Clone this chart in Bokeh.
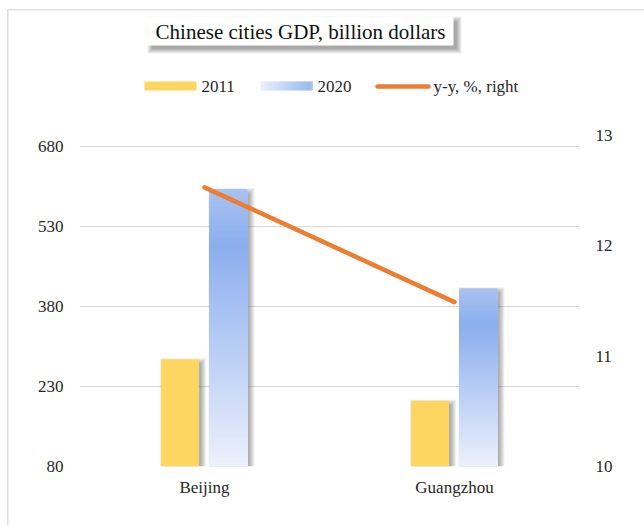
import numpy as np
from bokeh.plotting import figure
from bokeh.models import (ColumnDataSource, FactorRange, Range1d, LinearAxis,
                          FixedTicker, BoxAnnotation, Label)
from bokeh.transform import dodge
from bokeh.embed import file_html
from bokeh.resources import INLINE

# ---------------- data ----------------
cities = ["Beijing", "Guangzhou"]
gdp_2011 = [281, 203]
gdp_2020 = [600, 414]
yy_pct = [12.53, 11.49]
left_ticks = [80, 230, 380, 530, 680]
right_ticks = [10, 11, 12, 13]
title_text = "Chinese cities GDP, billion dollars"
legend_labels = ["2011", "2020", "y-y, %, right"]

# ---------------- layout constants ----------------
FL, FW, FR = 79, 500, 65      # frame left border, frame width, right border
FT, FH, FB = 0, 466, 59       # top border, frame height, bottom border
Y0, Y1 = 80, 700              # left axis min / max
R0, R1 = 10, 13               # right axis min / max
PLOT_PX = 331                 # pixels between axis min and max
ky = (Y1 - Y0) / PLOT_PX
kr = (R1 - R0) / PLOT_PX
kx = 2.0 / FW

FONT = "Liberation Serif"
TXT = "#262626"
YELLOW = "#fcd660"
ORANGE = "#ed7d31"
BORDER = "#dedede"


def cx(ix):  # canvas x -> synthetic x
    return (ix - FL) * kx


def cy(iy):  # canvas y -> left-axis data y
    return Y0 + (FH - (iy - FT)) * ky


def blue(t):
    stops = [(0.0, (236, 241, 252)), (0.8, (139, 174, 238)), (1.0, (168, 194, 241))]
    for (t0, c0), (t1, c1) in zip(stops[:-1], stops[1:]):
        if t <= t1:
            f = (t - t0) / (t1 - t0)
            c = [round(a + (b - a) * f) for a, b in zip(c0, c1)]
            return "#%02x%02x%02x" % tuple(c)
    return "#%02x%02x%02x" % stops[-1][1]


css_bg = ("linear-gradient(%s,%s) 7px 9px / 1.5px 100%% no-repeat, "
          "linear-gradient(%s,%s) 7px 9px / 100%% 1.5px no-repeat, white"
          % (BORDER, BORDER, BORDER, BORDER))

p = figure(x_range=FactorRange(*cities), y_range=Range1d(Y0, Y0 + FH * ky),
           frame_width=FW, frame_height=FH,
           min_border_left=FL, min_border_right=FR,
           min_border_top=FT, min_border_bottom=FB,
           output_backend="svg", toolbar_location=None,
           background_fill_color=None, border_fill_color=None,
           styles={"background": css_bg})
p.outline_line_color = None
p.extra_y_ranges = {"right": Range1d(R0, R0 + FH * kr)}

src = ColumnDataSource(dict(city=cities, v11=gdp_2011, v20=gdp_2020, yy=yy_pct))

bw = 38 * kx
off11 = -24.5 * kx
off20 = 24.0 * kx

# ---------- bar shadows ----------
for i in range(6):
    for vals, off in ((gdp_2011, off11), (gdp_2020, off20)):
        s = ColumnDataSource(dict(city=cities,
                                  top=[v - 3 * ky + (i - 1) * ky for v in vals]))
        p.vbar(x=dodge("city", off + 3 * kx, range=p.x_range), top="top", bottom=Y0,
               width=bw + 2 * (i - 1) * kx, source=s,
               fill_color="black", fill_alpha=0.06, line_color=None)

# ---------- 2011 bars ----------
p.vbar(x=dodge("city", off11, range=p.x_range), top="v11", bottom=Y0, width=bw,
       source=src, fill_color=YELLOW, line_color=None)

# ---------- 2020 gradient bars ----------
N = 140
gc, gt, gcol = [], [], []
for j in range(N, 0, -1):
    t = j / N
    for c, v in zip(cities, gdp_2020):
        gc.append(c)
        gt.append(Y0 + (v - Y0) * t)
        gcol.append(blue(t))
gsrc = ColumnDataSource(dict(city=gc, top=gt, color=gcol))
p.vbar(x=dodge("city", off20, range=p.x_range), top="top", bottom=Y0, width=bw,
       source=gsrc, fill_color="color", line_color=None)

# ---------- y-y line ----------
p.line(x="city", y="yy", y_range_name="right", source=src,
       line_color=ORANGE, line_width=4.5, line_cap="round")

# ---------- axes ----------
p.xgrid.visible = False
p.ygrid.grid_line_color = "#d9d9d9"
p.ygrid.grid_line_width = 1.2
p.yaxis.ticker = FixedTicker(ticks=left_ticks)
rax = LinearAxis(y_range_name="right", ticker=FixedTicker(ticks=right_ticks))
p.add_layout(rax, "right")

for ax in [p.xaxis[0], p.yaxis[0], rax]:
    ax.axis_line_color = None
    ax.major_tick_line_color = None
    ax.minor_tick_line_color = None
    ax.major_tick_out = 0
    ax.major_tick_in = 0
    ax.major_label_text_font = FONT
    ax.major_label_text_font_size = "17px"
    ax.major_label_text_color = TXT
    ax.major_label_standoff = 16
p.xaxis[0].major_label_standoff = 11

# ---------- title box ----------
for i in range(6):
    e = i - 1
    p.add_layout(BoxAnnotation(left=cx(147 + 4 - e), right=cx(453 + 4 + e),
                               top=cy(16 + 4 - e), bottom=cy(45 + 4 + e),
                               fill_color="black", fill_alpha=0.065, line_color=None))
p.add_layout(BoxAnnotation(left=cx(147), right=cx(453), top=cy(16), bottom=cy(45),
                           fill_color="white", fill_alpha=1, line_color=None))
p.add_layout(Label(x=cx(300), y=cy(31), text=title_text, text_align="center",
                   text_baseline="middle", text_font=FONT, text_font_size="21px",
                   text_color="#111111"))

# ---------- legend ----------
p.add_layout(BoxAnnotation(left=cx(144), right=cx(196), top=cy(81), bottom=cy(90),
                           fill_color=YELLOW, fill_alpha=1, line_color=None))
M = 52
for j in range(M):
    t = 0.05 + 0.8 * (j + 0.5) / M
    if j > M - 4:
        t = 0.8 + 0.1 * (j - (M - 4)) / 3
    p.add_layout(BoxAnnotation(left=cx(260 + j), right=cx(260 + j + 1.2),
                               top=cy(81), bottom=cy(90),
                               fill_color=blue(t), fill_alpha=1, line_color=None))
p.line(x=[cx(377), cx(428)], y=[cy(86), cy(86)], line_color=ORANGE,
       line_width=4.5, line_cap="round")
for x0, lab in zip([201, 317, 433], legend_labels):
    p.add_layout(Label(x=cx(x0), y=cy(86), text=lab, text_align="left",
                       text_baseline="middle", text_font=FONT,
                       text_font_size="17px", text_color=TXT))

open("out.html", "w").write(file_html(p, INLINE))
